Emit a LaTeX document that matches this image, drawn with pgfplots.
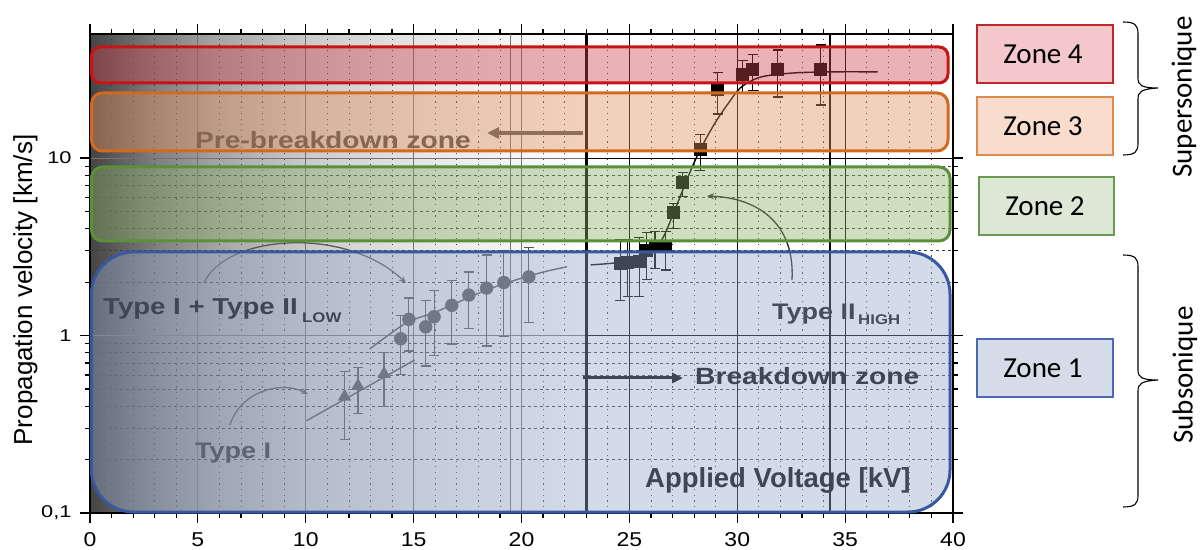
\documentclass[border=0pt]{standalone}
\usepackage{pgfplots}
\pgfplotsset{compat=1.18}
\usepackage{fontspec}
\setmainfont{Liberation Sans}
\newfontfamily\calib{Carlito}
\usetikzlibrary{arrows.meta}
\newcommand\sx[1]{\scalebox{1.15}[1]{\fontsize{20bp}{22bp}\selectfont #1}}
\newcommand\sy[1]{\scalebox{1.28}[1]{\fontsize{17bp}{19bp}\selectfont #1}}
\newcommand\sxb[1]{\scalebox{1.2}[1]{#1}}
\definecolor{bg0}{HTML}{444444}
\definecolor{bg1}{HTML}{7E7E7E}
\definecolor{bg2}{HTML}{A6A6A6}
\definecolor{bg3}{HTML}{CACACA}
\definecolor{bg4}{HTML}{E5E5E5}
\definecolor{bg5}{HTML}{F6F6F6}
\definecolor{zf4}{HTML}{CD4650}
\definecolor{zf3}{HTML}{E19160}
\definecolor{zf2}{HTML}{89B16B}
\definecolor{zf1}{HTML}{96A7C8}
\definecolor{zb4}{HTML}{C81414}
\definecolor{zb3}{HTML}{D2691E}
\definecolor{zb2}{HTML}{5B8F3A}
\definecolor{zb1}{HTML}{3858A0}
\definecolor{lf4}{HTML}{F4C7CA}
\definecolor{lf3}{HTML}{F8DCCD}
\definecolor{lf2}{HTML}{DDE7D5}
\definecolor{lf1}{HTML}{D5DBE9}
\definecolor{lb4}{HTML}{C0272D}
\definecolor{lb3}{HTML}{DD8A4C}
\definecolor{lb2}{HTML}{6A9A4E}
\definecolor{lb1}{HTML}{4A6AB0}
\definecolor{dgray}{HTML}{555555}
\begin{document}
\begin{tikzpicture}[x=1bp,y=1bp]
\path[use as bounding box] (0,0) rectangle (1203,-550);
% background gradient of the original figure
\shade[left color=bg0,right color=bg1] (90,-513) rectangle (154.7,-34);
\shade[left color=bg1,right color=bg2] (154.7,-513) rectangle (219.5,-34);
\shade[left color=bg2,right color=bg3] (219.5,-513) rectangle (305.8,-34);
\shade[left color=bg3,right color=bg4] (305.8,-513) rectangle (413.6,-34);
\shade[left color=bg4,right color=bg5] (413.6,-513) rectangle (521.5,-34);
\shade[left color=bg5,right color=white] (521.5,-513) rectangle (586.2,-34);
\begin{axis}[
  at={(90bp,-513bp)}, anchor=south west,
  scale only axis, width=863bp, height=479bp,
  ymode=log, xmin=0, xmax=40, ymin=0.1, ymax=50,
  xtick={0,5,...,40},
  xticklabels={\sx{0},\sx{5},\sx{10},\sx{15},\sx{20},\sx{25},\sx{30},\sx{35},\sx{40}},
  ytick={0.1,1,10},
  yticklabels={{\sy{0,1}},\sy{1},\sy{10}},
  minor x tick num=4,
  xticklabel style={yshift=-6bp},
  yticklabel style={xshift=-5bp},
  tick align=outside,
  major tick length=10bp, minor tick length=5bp,
  tick style={black, line width=1.2bp},
  axis line style={line width=1.8bp},
  grid=both,
  major grid style={black!55, line width=0.9bp},
  minor x grid style={black!75, line width=0.8bp, dash pattern=on 1.2bp off 4.5bp},
  minor y grid style={black!75, line width=0.8bp, dash pattern=on 3bp off 3bp},
  every axis plot/.append style={line width=1.4bp},
  error bars/error mark options={rotate=90, mark size=5bp, line width=1.2bp},
]
% frame lines of the original figure
\draw[black!55, line width=0.9bp] (axis cs:19.5,0.1) -- (axis cs:19.5,50);
\draw[black, line width=1.1bp] (axis cs:25,0.1) -- (axis cs:25,50);
\draw[black, line width=1.1bp] (axis cs:30,0.1) -- (axis cs:30,50);
\draw[black, line width=1.1bp] (axis cs:35,0.1) -- (axis cs:35,50);
\draw[black, line width=1.1bp] (axis cs:34.3,0.1) -- (axis cs:34.3,50);
\draw[black, line width=1.1bp] (axis cs:23,1) -- (axis cs:40,1);
\draw[black, line width=1.1bp] (axis cs:23,10) -- (axis cs:40,10);
\draw[black, line width=3bp] (axis cs:23,0.1) -- (axis cs:23,50);
% fits
\addplot[dgray, no marks] coordinates {(10.03,0.331) (15.05,0.728)};
\addplot[dgray, no marks, smooth] coordinates {(12.96,0.84) (13.9,1.02) (14.78,1.2) (15.9,1.34) (16.8,1.49) (17.6,1.65) (18.4,1.81) (19.2,1.96) (20.3,2.16) (21.2,2.31) (22.1,2.44)};
\addplot[black, no marks, smooth] coordinates {(23.2,2.5) (24.4,2.57) (25.2,2.7) (25.8,2.98) (26.49,3.45) (27.05,4.9) (27.72,7.85) (28.29,11.2) (28.96,15.7) (29.58,20.3) (30.2,25.2) (31.13,28.7) (32.68,30.2) (34.5,30.6) (36.5,30.6)};
% Type I (triangles)
\addplot[dgray, only marks, mark=triangle*, mark size=6.5bp,
  error bars/.cd, y dir=both, y explicit,
  error bar style={line width=1.2bp}]
  coordinates {
  (11.8,0.452) += (0,0.178) -= (0,0.192)
  (12.42,0.52) += (0,0.14) -= (0,0.155)
  (13.63,0.607) += (0,0.193) -= (0,0.21)
  };
% Type II low (circles)
\addplot[dgray, only marks, mark=*, mark size=6bp,
  error bars/.cd, y dir=both, y explicit,
  error bar style={line width=1.2bp}]
  coordinates {
  (14.40,0.959) += (0,0.341) -= (0,0.355)
  (14.78,1.234) += (0,0.392) -= (0,0.416)
  (15.56,1.12) += (0,0.45) -= (0,0.447)
  (15.95,1.276) += (0,0.514) -= (0,0.503)
  (16.77,1.48) += (0,0.57) -= (0,0.584)
  (17.56,1.69) += (0,0.59) -= (0,0.59)
  (18.38,1.85) += (0,0.99) -= (0,0.977)
  (19.18,1.99) += (0,1.01) -= (0,1.0)
  (20.34,2.14) += (0,1.0) -= (0,0.95)
  };
% Type II high (squares)
\addplot[black, only marks, mark=square*, mark size=5.8bp,
  error bars/.cd, y dir=both, y explicit,
  error bar style={line width=1.2bp}]
  coordinates {
  (24.58,2.53) += (0,0.95) -= (0,0.95)
  (24.92,2.57) += (0,0.91) -= (0,0.91)
  (25.46,2.63) += (0,0.93) -= (0,0.97)
  (25.8,3.0) += (0,0.79) -= (0,0.93)
  (26.19,3.17) += (0,0.68) -= (0,0.78)
  (26.69,3.17) += (0,0.68) -= (0,0.83)
  (27.05,4.92) += (0,0.64) -= (0,0.9)
  (27.47,7.26) += (0,1.0) -= (0,1.16)
  (28.29,11.2) += (0,2.4) -= (0,2.72)
  (29.09,24.4) += (0,5.8) -= (0,6.7)
  (30.25,29.4) += (0,5.9) -= (0,6.3)
  (30.71,31.6) += (0,6.8) -= (0,7.7)
  (31.87,31.6) += (0,9.0) -= (0,9.5)
  (33.87,31.6) += (0,11.7) -= (0,11.7)
  };
\end{axis}
% annotations of the original figure
\node[anchor=base, rotate=90, font=\fontsize{26bp}{28bp}\selectfont, inner sep=0pt] at (32,-290) {Propagation velocity [km/s]};
\node[anchor=base, font=\bfseries\fontsize{23.5bp}{26bp}\selectfont, text=black!72, inner sep=0pt] at (333,-149) {\sxb{Pre-breakdown zone}};
\draw[black!66, line width=4bp, -{Triangle[length=12bp,width=11bp]}] (583,-133) -- (487,-133);
\node[anchor=base west, font=\bfseries\fontsize{23bp}{26bp}\selectfont, text=black, inner sep=0pt] at (103,-315) {\sxb{Type I + Type II}};
\node[anchor=base west, font=\bfseries\fontsize{14bp}{16bp}\selectfont, text=black, inner sep=0pt] at (302,-323) {\sxb{LOW}};
\node[anchor=base west, font=\bfseries\fontsize{22.5bp}{26bp}\selectfont, text=black!80, inner sep=0pt] at (195,-458) {\sxb{Type I}};
\node[anchor=base west, font=\bfseries\fontsize{22.5bp}{26bp}\selectfont, text=black!95, inner sep=0pt] at (772,-320) {\sxb{Type II}};
\node[anchor=base west, font=\bfseries\fontsize{14bp}{16bp}\selectfont, text=black!95, inner sep=0pt] at (858,-325) {\sxb{HIGH}};
\node[anchor=base west, font=\bfseries\fontsize{23.5bp}{26bp}\selectfont, text=black, inner sep=0pt] at (695,-385) {\sxb{Breakdown zone}};
\draw[black, line width=3bp, -{Triangle[length=11bp,width=10bp]}] (583,-378) -- (683,-378);
\node[anchor=base west, font=\bfseries\fontsize{27.5bp}{30bp}\selectfont, text=black, inner sep=0pt] at (645,-487) {Applied Voltage [kV]};
\draw[black!65, line width=1.3bp, -{Stealth[length=7bp,width=6bp]}] (230,-425) .. controls (240,-392) and (280,-380) .. (308,-394);
\draw[black!65, line width=1.3bp, -{Stealth[length=7bp,width=6bp]}] (204,-283) .. controls (225,-235) and (345,-225) .. (406,-283);
\draw[black!85, line width=1.3bp, -{Stealth[length=7bp,width=6bp]}] (792,-280) .. controls (795,-225) and (760,-198) .. (707,-196);
% zones overlay
\filldraw[fill=zf4, fill opacity=0.42, draw=zb4, line width=3bp, rounded corners=9bp] (91.5,-47) rectangle (948,-83);
\filldraw[fill=zf3, fill opacity=0.42, draw=zb3, line width=3bp, rounded corners=11bp] (91.5,-93) rectangle (948,-151);
\filldraw[fill=zf2, fill opacity=0.42, draw=zb2, line width=3bp, rounded corners=11bp] (91.5,-167) rectangle (950,-241);
\filldraw[fill=zf1, fill opacity=0.42, draw=zb1, line width=3bp, rounded corners=42bp] (91.5,-252) rectangle (950,-512);
% right side legend
\filldraw[fill=lf4, draw=lb4, line width=1.3bp] (977,-25) rectangle (1113,-83);
\filldraw[fill=lf3, draw=lb3, line width=1.3bp] (977,-97) rectangle (1113,-155);
\filldraw[fill=lf2, draw=lb2, line width=1.3bp] (979,-177) rectangle (1114,-235);
\filldraw[fill=lf1, draw=lb1, line width=1.3bp] (977,-339) rectangle (1113,-397);
\begin{scope}[every node/.style={font=\calib\fontsize{29bp}{32bp}\selectfont, inner sep=0pt}]
\node at (1043,-54) {Zone 4};
\node at (1043,-126) {Zone 3};
\node at (1045,-206) {Zone 2};
\node at (1043,-368) {Zone 1};
\node[rotate=90] at (1184,-97) {Supersonique};
\node[rotate=90] at (1185,-375) {Subsonique};
\end{scope}
\draw[black, line width=1.1bp] (1123,-22) .. controls (1135,-22) and (1138,-25) .. (1138,-34) -- (1138,-78) .. controls (1138,-85) and (1141,-88) .. (1158,-88)
  .. controls (1141,-89) and (1138,-92) .. (1138,-99) -- (1138,-143) .. controls (1138,-152) and (1135,-155) .. (1123,-155);
\draw[black, line width=1.1bp] (1123,-255) .. controls (1135,-255) and (1138,-258) .. (1138,-267) -- (1138,-370) .. controls (1138,-377) and (1141,-380) .. (1158,-380)
  .. controls (1141,-381) and (1138,-384) .. (1138,-391) -- (1138,-495) .. controls (1138,-504) and (1135,-507) .. (1123,-507);
\end{tikzpicture}
\end{document}
